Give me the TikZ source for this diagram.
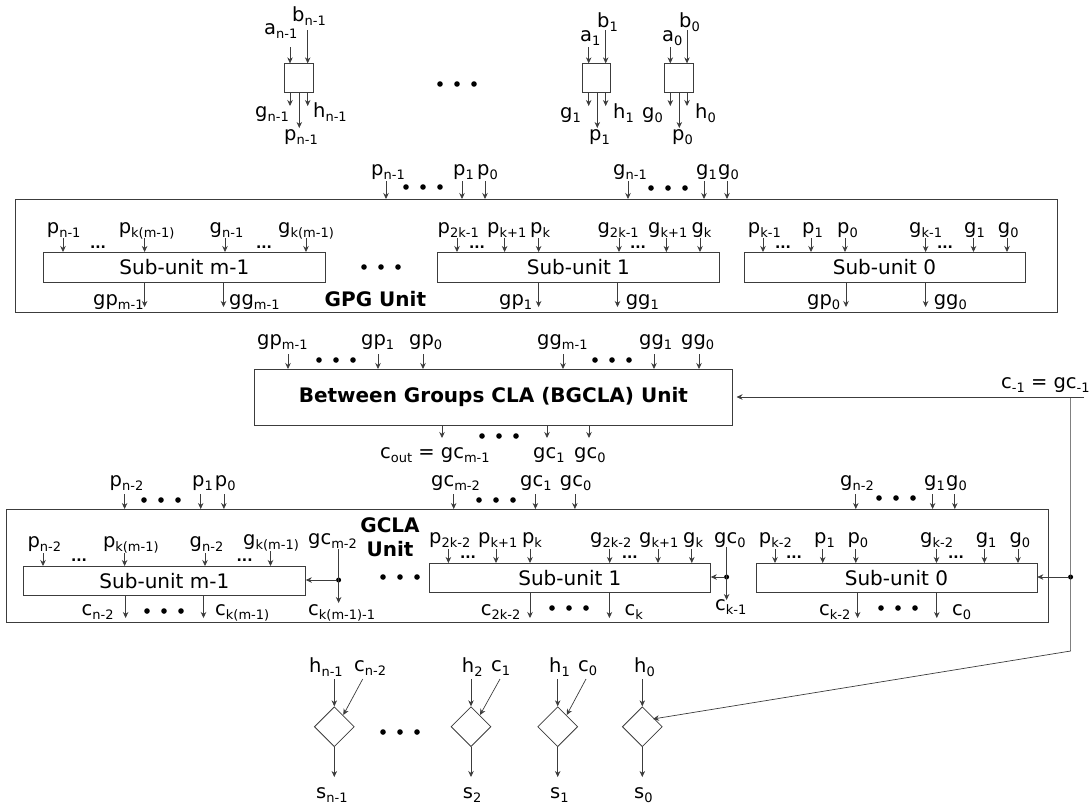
\documentclass[tikz,border=0pt]{standalone}
\usepackage{fontspec}
\setmainfont{DejaVu Sans}
\usetikzlibrary{positioning, arrows.meta, shapes.geometric}
\definecolor{linegray}{RGB}{60,60,60}
\newcommand{\lsub}[2]{#1\raisebox{-0.4ex}{\fontsize{13}{14}\selectfont #2}}
\tikzset{
  lbl/.style={anchor=base west, inner sep=0pt, font=\fontsize{19.5}{20}\selectfont},
  pin/.style={->, linegray, line width=0.7pt},
  ubox/.style={draw=linegray, line width=0.8pt, fill=white, anchor=north west, inner sep=0pt, font=\fontsize{20}{20}\selectfont},
  cell/.style={draw=linegray, line width=0.8pt, minimum size=28.5, inner sep=0pt},
  xorgate/.style={draw=linegray, line width=0.8pt, diamond, minimum width=40, minimum height=40, inner sep=0pt},
  bigdot/.style={circle, fill=black, minimum size=5.6, inner sep=0pt},
  jdot/.style={circle, fill=black, minimum size=5, inner sep=0pt},
  tinydots/.style={anchor=base, inner sep=0pt, font=\fontsize{14}{14}\selectfont\bfseries},
  unitname/.style={anchor=base, inner sep=0pt, font=\fontsize{20}{20}\selectfont\bfseries}
}
\newcommand{\dotrow}[2]{\foreach \i in {-1,0,1} \node[bigdot] (dots#1#2\i) at ({#1+\i*17},#2) {};}
\begin{document}
\begin{tikzpicture}[x=1pt,y=-1pt,>={Stealth[length=6pt,width=5.5pt]}]
    \useasboundingbox (0,0) rectangle (1092,807);

    % Propagate and generate cells
    \node[cell] (cellN) at (298.7,78) {};
    \node[cell] (cellB) at (596.5,78) {};
    \node[cell] (cellA) at (678.7,78) {};
    \foreach \nm/\txt/\lx/\ly/\ax/\sy/\unit in {
      an/{\lsub{a}{n-1}}/264/34/290/47/cellN, bn/{\lsub{b}{n-1}}/292/21/307.7/30/cellN,
      ab/{\lsub{a}{1}}/580/41/588.7/47/cellB, bb/{\lsub{b}{1}}/597/27/605.7/30/cellB,
      aa/{\lsub{a}{0}}/662/41/670.3/47/cellA, ba/{\lsub{b}{0}}/679/27/687/30/cellA}{
      \node[lbl] (\nm) at (\lx,\ly) {\txt};
      \coordinate (\nm-t) at (\ax,\sy);
      \draw[pin] (\nm-t) -- (\nm-t |- \unit.north);
    }
    \foreach \nm/\txt/\lx/\ly/\ax/\ey/\unit in {
      gn/{\lsub{g}{n-1}}/255/117/290/106/cellN, hn/{\lsub{h}{n-1}}/313/117/307.7/106/cellN, pn/{\lsub{p}{n-1}}/284/140/299.3/128/cellN,
      gb/{\lsub{g}{1}}/560/118/588.7/106/cellB, hb/{\lsub{h}{1}}/613/118/605.7/106/cellB, pb/{\lsub{p}{1}}/589/140/597.3/128/cellB,
      ga/{\lsub{g}{0}}/642/118/670.3/106/cellA, ha/{\lsub{h}{0}}/695/118/687/106/cellA, pa/{\lsub{p}{0}}/672/140/679.3/128/cellA}{
      \node[lbl] (\nm) at (\lx,\ly) {\txt};
      \coordinate (\nm-e) at (\ax,\ey);
      \draw[pin] (\nm-e |- \unit.south) -- (\nm-e);
    }
    \dotrow{457}{84}

    % GPG unit
    \node[ubox, minimum width=1042.5, minimum height=113] (gpg) at (14.5,199) {};
    \node[ubox, minimum width=282, minimum height=29.5] (gpgM) at (43,252) {Sub-unit m-1};
    \node[ubox, minimum width=282, minimum height=29.5] (gpgB) at (437,252) {Sub-unit 1};
    \node[ubox, minimum width=281, minimum height=29.5] (gpgA) at (743.5,252) {Sub-unit 0};
    \node[unitname, anchor=base west] (gpgname) at (324.5,306) {GPG Unit};
    \dotrow{381}{267}
    \foreach \nm/\txt/\lx/\ax in {
      tp2/{\lsub{p}{n-1}}/371/386, tp1/{\lsub{p}{1}}/453/462, tp0/{\lsub{p}{0}}/477/485,
      tg2/{\lsub{g}{n-1}}/613/628, tg1/{\lsub{g}{1}}/696/704, tg0/{\lsub{g}{0}}/718/727}{
      \node[lbl] (\nm) at (\lx,175) {\txt};
      \coordinate (\nm-t) at (\ax,181);
      \draw[pin] (\nm-t) -- (\nm-t |- gpg.north);
    }
    \dotrow{423}{187}
    \dotrow{668}{188}
    \foreach \nm/\txt/\lx/\ax/\unit in {
      m1/{\lsub{p}{n-1}}/46.7/63/gpgM, m2/{\lsub{p}{k(m-1)}}/118.6/144.6/gpgM, m3/{\lsub{g}{n-1}}/209.5/225/gpgM, m4/{\lsub{g}{k(m-1)}}/278/306/gpgM,
      s1/{\lsub{p}{2k-1}}/437.5/457/gpgB, s2/{\lsub{p}{k+1}}/487/504.6/gpgB, s3/{\lsub{p}{k}}/530/538.6/gpgB,
      s4/{\lsub{g}{2k-1}}/597.4/619/gpgB, s5/{\lsub{g}{k+1}}/648/666.4/gpgB, s6/{\lsub{g}{k}}/691.4/700/gpgB,
      z1/{\lsub{p}{k-1}}/747.7/763/gpgA, z2/{\lsub{p}{1}}/802/811/gpgA, z3/{\lsub{p}{0}}/837/845/gpgA,
      z4/{\lsub{g}{k-1}}/909/925.6/gpgA, z5/{\lsub{g}{1}}/964/973.5/gpgA, z6/{\lsub{g}{0}}/997.7/1007/gpgA}{
      \node[lbl] (\nm) at (\lx,233) {\txt};
      \coordinate (\nm-t) at (\ax,238);
      \draw[pin] (\nm-t) -- (\nm-t |- \unit.north);
    }
    \foreach \nm/\x in {e1/98, e2/264, e3/477, e4/638, e5/783, e6/945}
      \node[tinydots] (\nm) at (\x,248) {...};
    \foreach \nm/\txt/\lx/\ax/\unit in {
      gpm/{\lsub{gp}{m-1}}/93/144.6/gpgM, ggm/{\lsub{gg}{m-1}}/229/223.5/gpgM,
      gpb/{\lsub{gp}{1}}/499/538.6/gpgB, ggb/{\lsub{gg}{1}}/625.6/617.5/gpgB,
      gpa/{\lsub{gp}{0}}/807/846/gpgA, gga/{\lsub{gg}{0}}/933.6/925.6/gpgA}{
      \node[lbl] (\nm) at (\lx,305) {\txt};
      \coordinate (\nm-e) at (\ax,307);
      \draw[pin] (\nm-e |- \unit.south) -- (\nm-e);
    }

    % BGCLA unit
    \node[ubox, minimum width=478, minimum height=56, font=\fontsize{20}{20}\selectfont\bfseries] (bgcla) at (254,369) {Between Groups CLA (BGCLA) Unit};
    \foreach \nm/\txt/\lx/\ax in {
      bp2/{\lsub{gp}{m-1}}/257/288, bp1/{\lsub{gp}{1}}/361/378, bp0/{\lsub{gp}{0}}/409/423,
      bg2/{\lsub{gg}{m-1}}/537/563, bg1/{\lsub{gg}{1}}/639/654, bg0/{\lsub{gg}{0}}/681/699}{
      \node[lbl] (\nm) at (\lx,345) {\txt};
      \coordinate (\nm-t) at (\ax,354);
      \draw[pin] (\nm-t) -- (\nm-t |- bgcla.north);
    }
    \dotrow{336}{360}
    \dotrow{612}{360}
    \foreach \nm/\txt/\lx/\ax in {
      cm/{\lsub{c}{out} = \lsub{gc}{m-1}}/380/442, cb/{\lsub{gc}{1}}/533/547, ca/{\lsub{gc}{0}}/574/589}{
      \node[lbl] (\nm) at (\lx,458) {\txt};
      \coordinate (\nm-e) at (\ax,438);
      \draw[pin] (\nm-e |- bgcla.south) -- (\nm-e);
    }
    \dotrow{499}{436}
    \node[lbl] (cin) at (1001,388) {\lsub{c}{-1} = \lsub{gc}{-1}};
    \coordinate (cin-r) at (1084,397);
    \coordinate (cin-l) at (736.5,397);
    \draw[pin] (cin-r) -- (cin-l);

    % GCLA unit
    \node[ubox, minimum width=1041.5, minimum height=113] (gcla) at (6.3,509) {};
    \node[ubox, minimum width=282, minimum height=28.5] (gclaM) at (23,566) {Sub-unit m-1};
    \node[ubox, minimum width=281, minimum height=28.5] (gclaB) at (429,563) {Sub-unit 1};
    \node[ubox, minimum width=281, minimum height=28.5] (gclaA) at (755.5,563) {Sub-unit 0};
    \node[unitname] (gclaname1) at (390,532) {GCLA};
    \node[unitname] (gclaname2) at (390,556) {Unit};
    \dotrow{400}{577}
    \foreach \nm/\txt/\lx/\ax in {
      up2/{\lsub{p}{n-2}}/109.5/124.6, up1/{\lsub{p}{1}}/192/200.7, up0/{\lsub{p}{0}}/214.7/223.9,
      uc2/{\lsub{gc}{m-2}}/431/453.7, uc1/{\lsub{gc}{1}}/520/535.4, uc0/{\lsub{gc}{0}}/559.7/574.9,
      ug2/{\lsub{g}{n-2}}/840/855.8, ug1/{\lsub{g}{1}}/924/932.6, ug0/{\lsub{g}{0}}/946/954.8}{
      \node[lbl] (\nm) at (\lx,486) {\txt};
      \coordinate (\nm-t) at (\ax,494);
      \draw[pin] (\nm-t) -- (\nm-t |- gcla.north);
    }
    \dotrow{161}{500}
    \dotrow{496}{500}
    \dotrow{896}{498}
    \foreach \nm/\txt/\lx/\ly/\ax/\unit in {
      q1/{\lsub{p}{n-2}}/27.4/547/43/gclaM, q2/{\lsub{p}{k(m-1)}}/102.8/547/124.6/gclaM, q3/{\lsub{g}{n-2}}/189.5/547/205/gclaM, q4/{\lsub{g}{k(m-1)}}/243/545/270.5/gclaM,
      r1/{\lsub{p}{2k-2}}/429/543/448.4/gclaB, r2/{\lsub{p}{k+1}}/478/543/496/gclaB, r3/{\lsub{p}{k}}/521.8/543/530/gclaB,
      r4/{\lsub{g}{2k-2}}/590/543/609.7/gclaB, r5/{\lsub{g}{k+1}}/639/543/658/gclaB, r6/{\lsub{g}{k}}/683/543/691.8/gclaB,
      t1/{\lsub{p}{k-2}}/758.7/543/775/gclaA, t2/{\lsub{p}{1}}/814/543/822.7/gclaA, t3/{\lsub{p}{0}}/847.4/543/855.8/gclaA,
      t4/{\lsub{g}{k-2}}/920/543/936.5/gclaA, t5/{\lsub{g}{1}}/975.6/543/984.4/gclaA, t6/{\lsub{g}{0}}/1009.4/543/1018/gclaA}{
      \node[lbl] (\nm) at (\lx,\ly) {\txt};
      \coordinate (\nm-t) at (\ax,{\ly+6});
      \draw[pin] (\nm-t) -- (\nm-t |- \unit.north);
    }
    \foreach \nm/\x/\y in {f1/79/561, f2/244.6/561, f3/468/558, f4/629.8/558, f5/794/558, f6/956/558}
      \node[tinydots] (\nm) at (\x,\y) {...};
    \foreach \nm/\txt/\lx/\ax/\unit in {
      cq1/{\lsub{c}{n-2}}/81.4/125.6/gclaM, cq2/{\lsub{c}{k(m-1)}}/215/203.5/gclaM,
      cr1/{\lsub{c}{2k-2}}/480.7/530/gclaB, cr2/{\lsub{c}{k}}/624.5/609.4/gclaB,
      ct1/{\lsub{c}{k-2}}/819/857.6/gclaA, ct2/{\lsub{c}{0}}/952/936.8/gclaA}{
      \node[lbl] (\nm) at (\lx,615) {\txt};
      \coordinate (\nm-e) at (\ax,618);
      \draw[pin] (\nm-e |- \unit.south) -- (\nm-e);
    }
    \dotrow{164}{611}
    \dotrow{569}{608}
    \dotrow{898}{608}

    % Carries between the sub-units
    \node[lbl] (gcm) at (308,544) {\lsub{gc}{m-2}};
    \node[lbl] (ckm) at (308,615) {\lsub{c}{k(m-1)-1}};
    \node[jdot] (jM) at (338.6,580) {};
    \coordinate (gcm-t) at (338.6,549);
    \coordinate (ckm-t) at (338.6,603);
    \draw[pin] (gcm-t) -- (ckm-t);
    \draw[pin] (jM) -- (gclaM.east |- jM);
    \node[lbl] (gcz) at (714,543) {\lsub{gc}{0}};
    \node[lbl] (ckz) at (715,610) {\lsub{c}{k-1}};
    \node[jdot] (jB) at (726.6,577) {};
    \coordinate (gcz-t) at (726.6,547);
    \coordinate (ckz-t) at (726.6,600);
    \draw[pin] (gcz-t) -- (ckz-t);
    \draw[pin] (jB) -- (gclaB.east |- jB);
    \node[jdot] (jA) at (1070.6,577) {};
    \draw[pin] (jA) -- (gclaA.east |- jA);

    % Sum gates
    \node[xorgate] (xorN) at (334.3,726.7) {};
    \node[xorgate] (xorC) at (471,726.7) {};
    \node[xorgate] (xorB) at (557.7,726.7) {};
    \node[xorgate] (xorA) at (642.3,726.7) {};
    \dotrow{400}{732}
    \foreach \nm/\hh/\hx/\ss/\sx/\gx/\unit in {
      n/{\lsub{h}{n-1}}/309/{\lsub{s}{n-1}}/316/334.3/xorN, c/{\lsub{h}{2}}/461.7/{\lsub{s}{2}}/462.7/471/xorC,
      b/{\lsub{h}{1}}/549/{\lsub{s}{1}}/550/557.7/xorB, a/{\lsub{h}{0}}/634/{\lsub{s}{0}}/634/642.3/xorA}{
      \node[lbl] (h\nm) at (\hx,672) {\hh};
      \node[lbl] (s\nm) at (\sx,798) {\ss};
      \coordinate (h\nm-t) at (\gx,679);
      \coordinate (s\nm-e) at (\gx,777);
      \draw[pin] (h\nm-t) -- (\unit.north);
      \draw[pin] (\unit.south) -- (s\nm-e);
    }
    \foreach \nm/\txt/\lx/\sx/\ex in {
      n/{\lsub{c}{n-2}}/354/362.7/343.3, c/{\lsub{c}{1}}/491/500/480, b/{\lsub{c}{0}}/578/586/566.7}{
      \node[lbl] (c\nm) at (\lx,671) {\txt};
      \coordinate (c\nm-t) at (\sx,679);
      \coordinate (c\nm-e) at (\ex,715);
      \draw[pin] (c\nm-t) -- (c\nm-e);
    }
    \coordinate (cin-v) at (1070.6,397);
    \coordinate (cin-b) at (1070.6,651);
    \coordinate (xorA-in) at (653,719);
    \draw[pin] (cin-v) -- (cin-b) -- (xorA-in);
\end{tikzpicture}
\end{document}
